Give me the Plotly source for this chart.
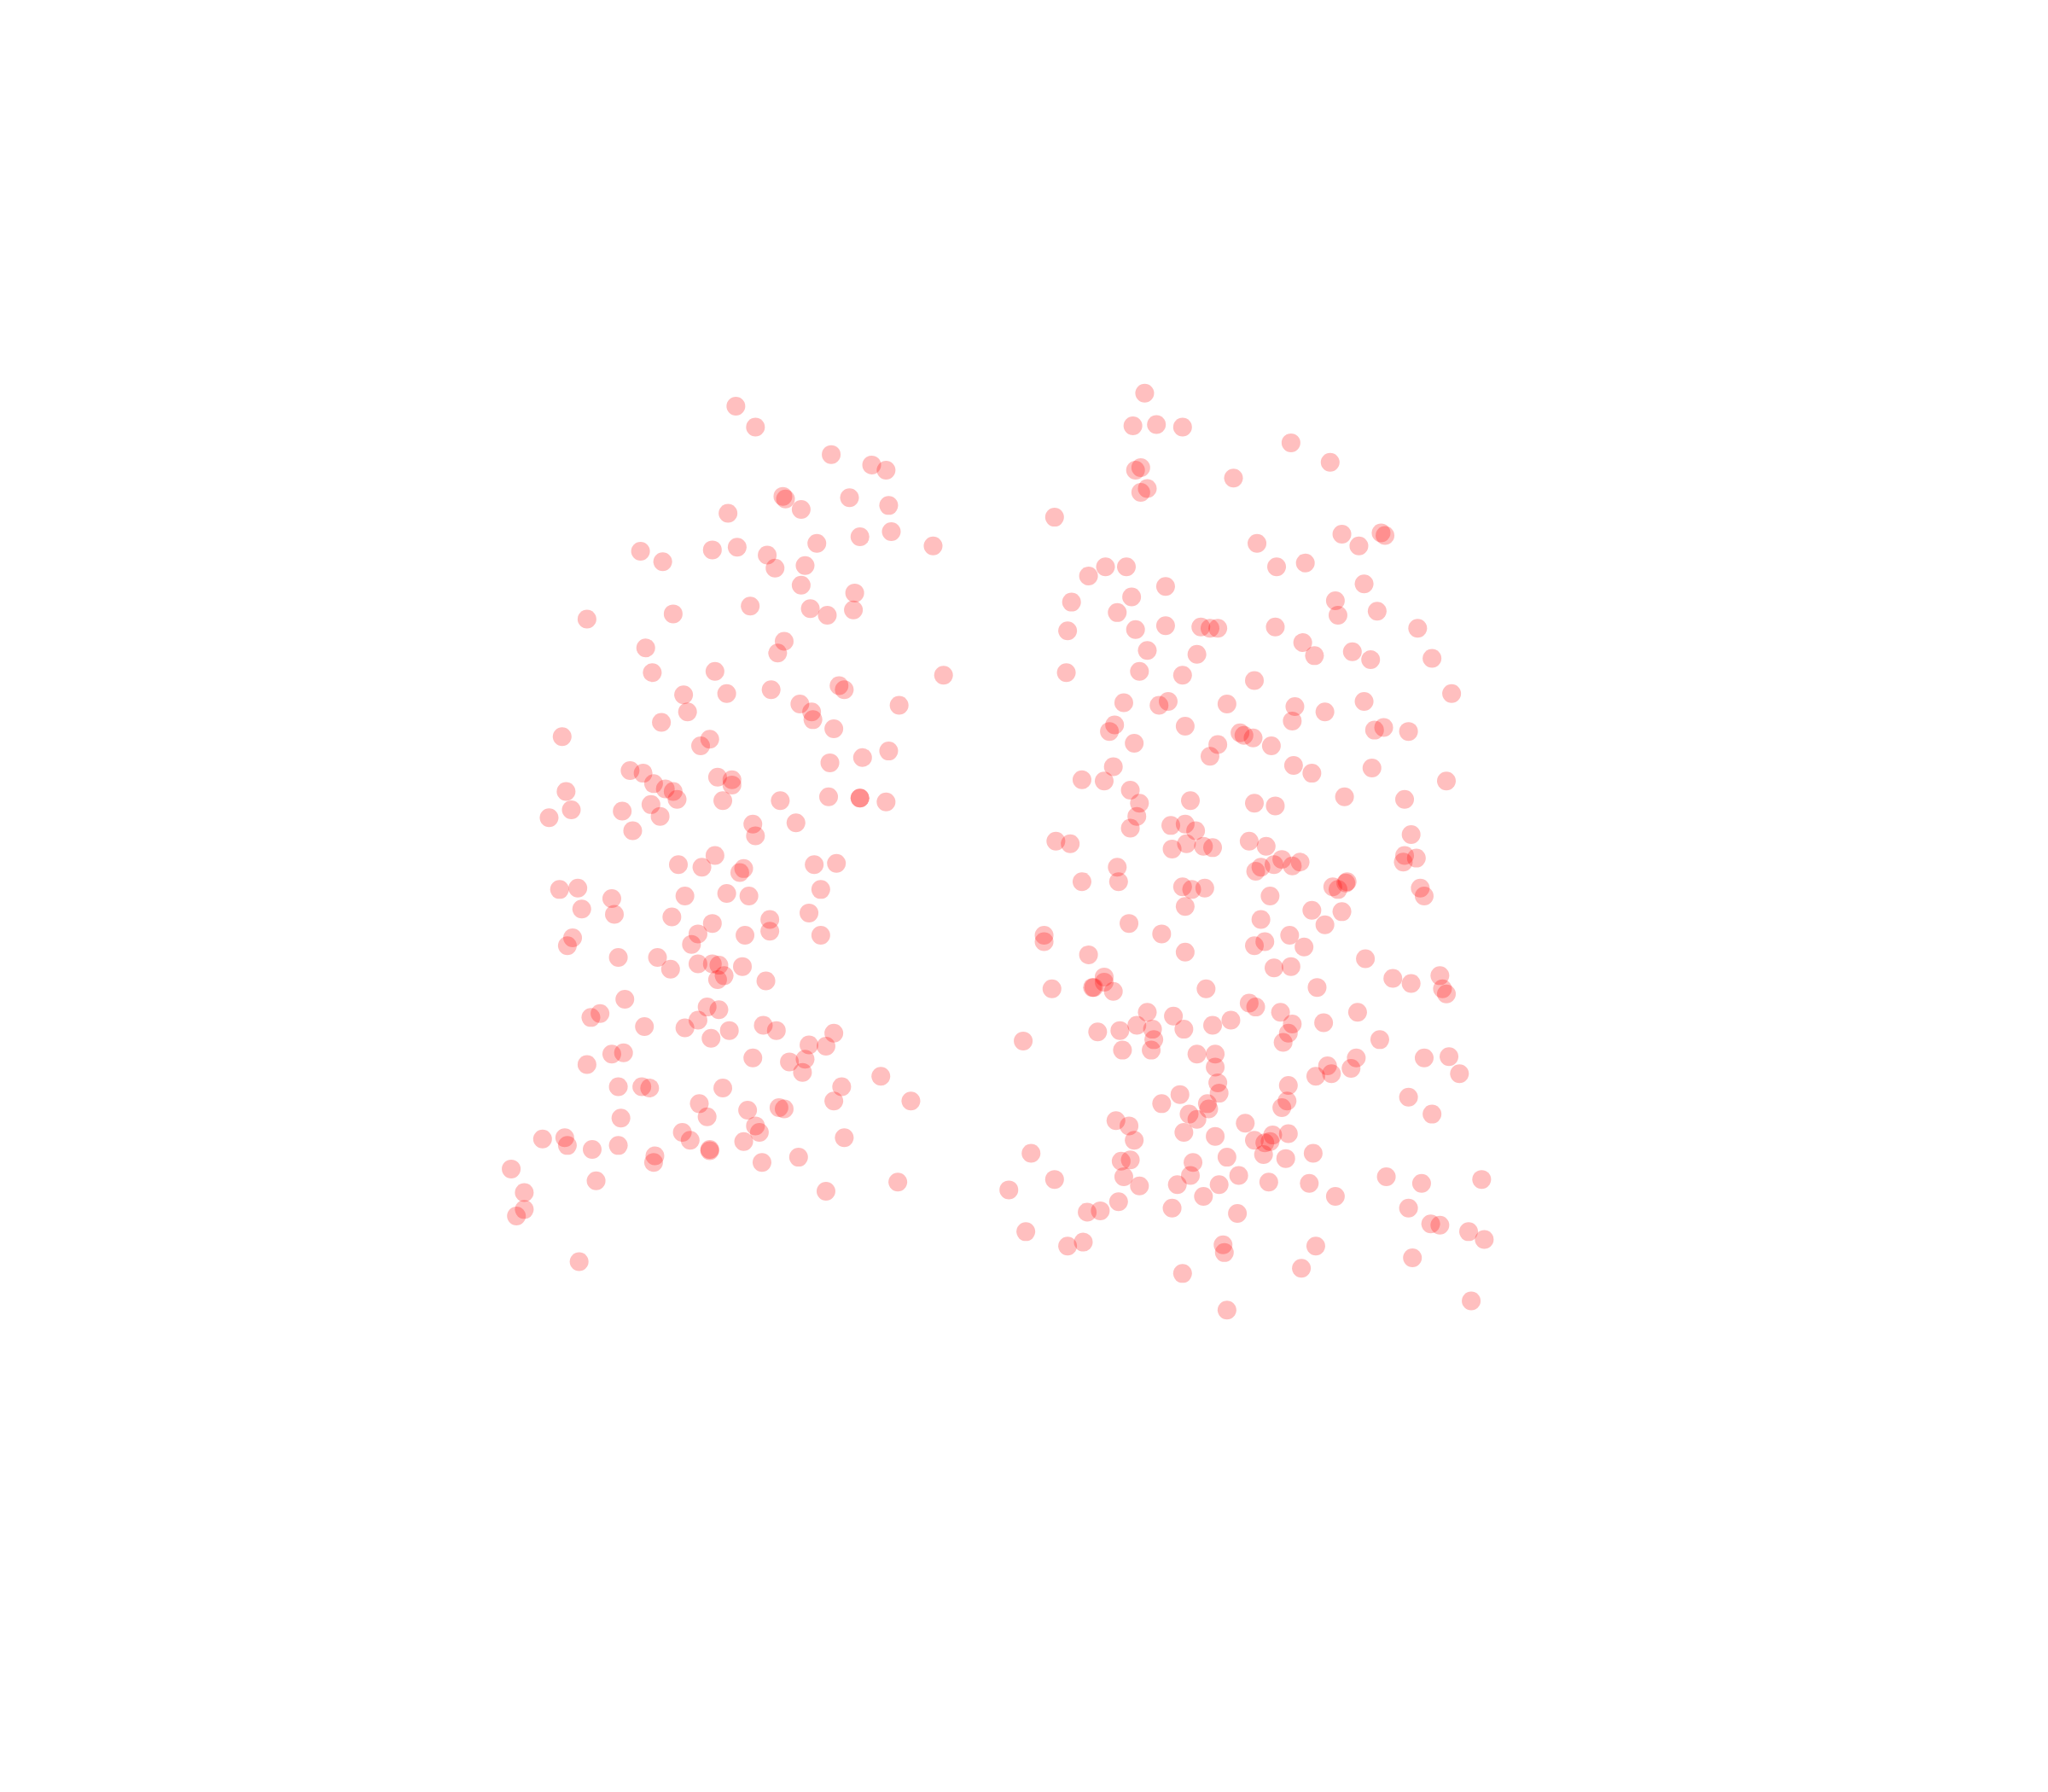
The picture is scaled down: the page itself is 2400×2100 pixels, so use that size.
import plotly.graph_objects as go

left_points = [(563,311),(578,327),(636,348),(667,356),(678,360),(599,380),(601,382),(613,390),(650,381),(680,387),(557,393),(658,411),(682,407),(714,418),(625,416),(490,422),(507,430),(545,421),(564,419),(587,425),(593,435),(616,433),(613,448),(654,454),(653,467),(620,466),(633,471),(574,464),(515,470),(449,474),(494,496),(600,491),(595,500),(499,515),(547,514),(722,517),(523,532),(556,531),(590,528),(642,525),(646,528),(612,539),(688,540),(526,545),(621,545),(622,551),(506,553),(638,558),(430,564),(543,566),(536,571),(680,575),(660,580),(635,584),(482,590),(492,592),(500,600),(549,595),(560,597),(560,601),(509,604),(515,606),(518,612),(433,606),(498,616),(553,613),(597,613),(634,610),(658,611),(658,611),(678,614),(437,620),(476,621),(505,625),(420,626),(484,636),(576,631),(609,630),(578,640),(547,655),(519,662),(537,664),(569,665),(566,668),(623,662),(640,661),(428,681),(442,680),(468,688),(524,686),(556,684),(573,686),(628,681),(445,696),(470,700),(514,702),(589,704),(619,699),(545,707),(534,715),(589,713),(570,716),(628,716),(438,718),(434,724),(529,723),(473,733),(503,733),(513,742),(534,738),(545,738),(550,739),(568,740),(554,747),(549,750),(586,751),(478,765),(459,776),(452,779),(541,771),(550,773),(534,781),(493,786),(524,787),(558,789),(544,795),(584,785),(594,789),(638,791),(619,800),(632,801),(468,807),(477,806),(449,815),(576,810),(604,813),(616,811),(614,821),(674,824),(473,832),(491,832),(497,833),(553,833),(644,832),(697,843),(638,843),(535,845),(541,855),(572,850),(596,848),(600,849),(475,856),(578,862),(581,867),(522,867),(528,873),(415,872),(432,871),(434,877),(453,880),(473,877),(569,874),(646,871),(543,880),(543,881),(501,885),(500,890),(583,890),(611,886),(391,895),(456,904),(632,912),(687,905),(401,913),(401,926),(395,931),(443,966)]

right_points = [(876,301),(867,326),(885,325),(905,327),(988,339),(1018,354),(869,360),(873,358),(944,366),(873,377),(878,374),(807,396),(1027,409),(1057,408),(1060,410),(1040,418),(962,416),(977,434),(999,431),(846,434),(862,434),(833,441),(892,449),(1044,447),(820,461),(866,457),(855,469),(1022,460),(1024,471),(1054,468),(817,483),(869,482),(892,479),(919,480),(926,481),(932,481),(976,480),(1085,481),(878,498),(997,492),(1006,502),(1035,499),(1049,505),(1096,504),(916,501),(816,515),(872,514),(905,517),(960,521),(1111,531),(860,538),(887,540),(894,537),(939,539),(991,541),(1014,545),(1044,537),(989,552),(853,555),(849,560),(907,556),(949,561),(952,563),(959,565),(1052,559),(1059,557),(1078,560),(868,569),(932,570),(973,571),(926,579),(990,586),(1004,592),(1050,588),(852,587),(828,597),(845,598),(1107,598),(865,605),(872,615),(911,613),(960,615),(976,617),(1029,610),(1075,612),(870,625),(865,634),(896,632),(907,631),(915,636),(1080,639),(808,644),(819,646),(897,650),(908,646),(921,648),(928,649),(956,644),(969,648),(1075,655),(1074,660),(1084,657),(855,664),(961,667),(965,664),(975,662),(981,658),(989,663),(995,660),(828,675),(856,675),(905,679),(912,681),(922,680),(1020,679),(1024,681),(1030,676),(1031,675),(1087,680),(1090,686),(972,686),(907,694),(1004,697),(1027,698),(864,707),(965,704),(1014,708),(799,716),(799,721),(889,715),(987,716),(960,724),(968,721),(998,725),(833,731),(907,729),(1045,734),(975,741),(988,740),(845,748),(845,752),(836,756),(837,756),(852,759),(805,757),(923,757),(1008,756),(1066,749),(1080,753),(1102,747),(1104,757),(1107,761),(956,768),(961,771),(878,775),(898,778),(980,775),(1039,775),(870,785),(928,785),(942,781),(989,784),(1013,783),(783,797),(840,790),(857,789),(882,788),(906,788),(883,796),(986,791),(982,798),(1056,796),(859,804),(881,804),(916,807),(930,807),(1038,810),(1090,810),(1109,809),(930,817),(1016,816),(1019,822),(1034,818),(1007,824),(1117,822),(932,829),(986,831),(933,837),(903,838),(1078,840),(889,845),(924,845),(925,849),(985,843),(981,848),(1096,853),(910,853),(916,857),(854,858),(864,862),(953,860),(906,867),(930,870),(868,873),(960,873),(974,869),(986,868),(968,875),(972,874),(967,884),(1005,883),(789,883),(858,889),(865,888),(913,890),(939,886),(984,887),(948,900),(911,900),(860,901),(807,903),(872,908),(901,907),(933,907),(971,905),(1002,906),(1061,901),(1088,906),(1134,903),(772,911),(921,916),(856,920),(1022,916),(832,928),(842,927),(897,925),(947,929),(1078,925),(1095,937),(1102,938),(785,943),(1124,943),(1136,949),(817,954),(829,951),(936,953),(937,959),(1007,954),(1081,963),(905,975),(996,971),(1126,996),(939,1003)]

fig = go.Figure()
for pts in (left_points, right_points):
    fig.add_trace(go.Scatter(
        x=[p[0] for p in pts], y=[p[1] for p in pts], mode="markers",
        marker=dict(size=22, color="#ff0000", opacity=0.25, line=dict(width=0, color="rgba(0,0,0,0)")),
        showlegend=False, cliponaxis=False, hoverinfo="skip",
    ))

fig.update_xaxes(visible=False, range=[-0.4, 1567.6])
fig.update_yaxes(visible=False, range=[1372, 0])
fig.update_layout(
    width=2400, height=2100, margin=dict(l=0, r=0, t=0, b=0),
    paper_bgcolor="white", plot_bgcolor="white",
)
fig.write_html("out.html", config={"displayModeBar": False}, post_script="document.body.style.margin='0';")
